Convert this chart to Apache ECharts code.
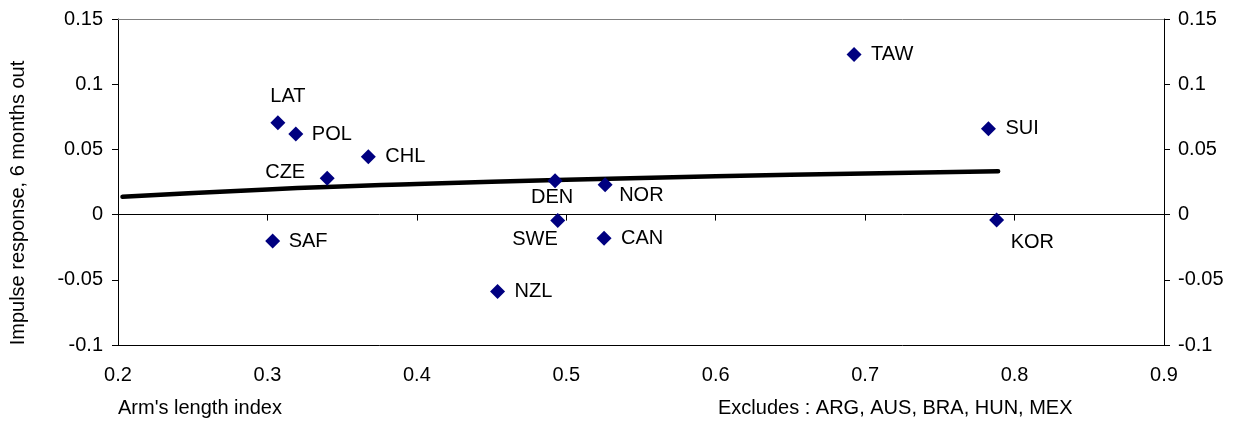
<!DOCTYPE html>
<html>
<head>
<meta charset="utf-8">
<script src="https://cdn.jsdelivr.net/npm/echarts@6/dist/echarts.min.js"></script>
<style>
html,body{margin:0;padding:0;background:#fff;}
#chart{width:1244px;height:422px;}
</style>
</head>
<body>
<div id="chart"></div>
<script>
// Country labels and values
const countries = ['LAT','POL','CHL','CZE','SAF','DEN','NOR','SWE','CAN','NZL','TAW','SUI','KOR'];
const armsLength = [0.307,0.319,0.3675,0.340,0.3035,0.4925,0.526,0.4943,0.5253,0.454,0.6926,0.7825,0.788];
const impulse6m = [0.0705,0.0618,0.0444,0.0279,-0.0203,0.0259,0.0228,-0.0046,-0.0182,-0.059,0.1228,0.0659,-0.0041];

// Trend line
const trendX = [0.203,0.3,0.4,0.5,0.6,0.7,0.789];
const trendY = [0.0136,0.0193,0.0235,0.0267,0.0294,0.0316,0.0333];

const xTicks = [0.2,0.3,0.4,0.5,0.6,0.7,0.8,0.9];
const yTicks = [-0.1,-0.05,0,0.05,0.1,0.15];

// label placement (style): [align, dx, dy]
const labelPlace = {
  LAT:['center',10,-26], POL:['left',16,0], CHL:['left',17,0], CZE:['right',-22,-6],
  SAF:['left',16,0], DEN:['center',-3,17], NOR:['left',14,11], SWE:['right',0,19],
  CAN:['left',17,0], NZL:['left',17,0], TAW:['left',17,0], SUI:['left',17,0], KOR:['left',14,23]
};

const FONT = '"Liberation Sans", Arial, sans-serif';

const scatterData = countries.map((c,i)=>{
  const p = labelPlace[c];
  return {
    name: c,
    value: [armsLength[i], impulse6m[i]],
    label: {show:true, position:'inside', align:p[0], verticalAlign:'middle', offset:[p[1],p[2]],
            color:'#000', opacity:1, fontSize:20, fontFamily:FONT}
  };
});
const trendData = trendX.map((x,i)=>[x,trendY[i]]);

const xMin = xTicks[0], xMax = xTicks[xTicks.length-1];
const yMin = yTicks[0], yMax = yTicks[yTicks.length-1];

const chart = echarts.init(document.getElementById('chart'), null, {renderer:'canvas'});
chart.setOption({
  animation:false,
  backgroundColor:'#fff',
  textStyle:{fontFamily:FONT},
  grid:{left:118, right:80, top:19, bottom:77, containLabel:false},
  xAxis:[
    {type:'value', position:'bottom', min:xMin, max:xMax, interval:0.1,
     axisLine:{show:true, onZero:false, lineStyle:{color:'#000', width:1}},
     axisTick:{show:false}, splitLine:{show:false},
     axisLabel:{color:'#000', fontSize:20, fontFamily:FONT, margin:20,
       formatter:v=>String(Math.round(v*10)/10)}},
    {type:'value', position:'bottom', min:xMin, max:xMax, interval:0.1,
     axisLine:{show:true, onZero:true, lineStyle:{color:'#000', width:1}},
     axisTick:{show:true, inside:false, length:6, lineStyle:{color:'#000'}},
     splitLine:{show:false}, axisLabel:{show:false}},
    {type:'value', position:'top', min:xMin, max:xMax, interval:0.1,
     axisLine:{show:true, onZero:false, lineStyle:{color:'#808080', width:1}},
     axisTick:{show:false}, splitLine:{show:false}, axisLabel:{show:false}}
  ],
  yAxis:[
    {type:'value', position:'left', min:yMin, max:yMax, interval:0.05,
     axisLine:{show:true, onZero:false, lineStyle:{color:'#000'}},
     axisTick:{show:true, length:6, lineStyle:{color:'#000'}},
     splitLine:{show:false},
     axisLabel:{color:'#000', fontSize:20, fontFamily:FONT, margin:15,
       formatter:v=>String(Math.round(v*100)/100)}},
    {type:'value', position:'right', min:yMin, max:yMax, interval:0.05,
     axisLine:{show:true, onZero:false, lineStyle:{color:'#000'}},
     axisTick:{show:true, length:6, lineStyle:{color:'#000'}},
     splitLine:{show:false},
     axisLabel:{color:'#000', fontSize:20, fontFamily:FONT, margin:14,
       formatter:v=>String(Math.round(v*100)/100)}}
  ],
  graphic:[
    {type:'text', x:18.5, y:203, rotation:Math.PI/2,
     style:{text:'Impulse response, 6 months out', font:'20px '+FONT, fill:'#000', align:'center', verticalAlign:'middle'}},
    {type:'text', x:118, y:408,
     style:{text:"Arm's length index", font:'20px '+FONT, fill:'#000', align:'left', verticalAlign:'middle'}},
    {type:'text', x:718, y:408,
     style:{text:'Excludes : ARG, AUS, BRA, HUN, MEX', font:'20px '+FONT, fill:'#000', align:'left', verticalAlign:'middle'}}
  ],
  series:[
    {type:'line', xAxisIndex:0, yAxisIndex:0, data:trendData, smooth:true, showSymbol:false, symbol:'none',
     lineStyle:{color:'#000', width:4.5, cap:'round', opacity:1}, z:2, silent:true},
    {type:'scatter', xAxisIndex:0, yAxisIndex:0, data:scatterData, symbol:'diamond', symbolSize:[15,15],
     itemStyle:{color:'#000080', opacity:1}, z:3,
     label:{color:'#000', fontSize:20, fontFamily:FONT, formatter:'{b}'}}
  ]
});
</script>
</body>
</html>
